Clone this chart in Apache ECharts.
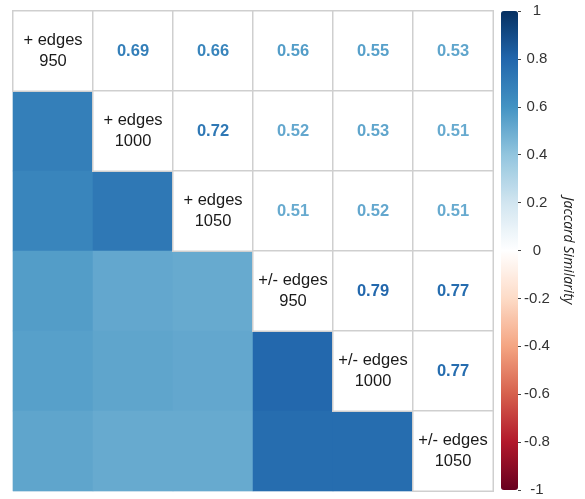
<!DOCTYPE html>
<html>
<head>
<meta charset="utf-8">
<script src="https://cdn.jsdelivr.net/npm/echarts@6/dist/echarts.min.js"></script>
<style>html,body{margin:0;padding:0;background:#fff;}#c{width:585px;height:499px;}</style>
</head>
<body>
<div id="c"></div>
<script>
// ---- data ----
var labels = ['+ edges\n950', '+ edges\n1000', '+ edges\n1050', '+/- edges\n950', '+/- edges\n1000', '+/- edges\n1050'];
var row0 = [1.00, 0.69, 0.66, 0.56, 0.55, 0.53];
var row1 = [0.69, 1.00, 0.72, 0.52, 0.53, 0.51];
var row2 = [0.66, 0.72, 1.00, 0.51, 0.52, 0.51];
var row3 = [0.56, 0.52, 0.51, 1.00, 0.79, 0.77];
var row4 = [0.55, 0.53, 0.52, 0.79, 1.00, 0.77];
var row5 = [0.53, 0.51, 0.51, 0.77, 0.77, 1.00];
var matrix = [row0, row1, row2, row3, row4, row5];
var palette = ['#67001F', '#B2182B', '#D6604D', '#F4A582', '#FDDBC7', '#FFFFFF', '#D1E5F0', '#92C5DE', '#4393C3', '#2166AC', '#053061'];

function hex2rgb(h){return [parseInt(h.substr(1,2),16),parseInt(h.substr(3,2),16),parseInt(h.substr(5,2),16)];}
function colorOf(v){
  var t = (v + 1) / 2 * (palette.length - 1);
  var i = Math.min(Math.floor(t), palette.length - 2);
  var f = t - i;
  var a = hex2rgb(palette[i]), b = hex2rgb(palette[i+1]);
  var c = a.map(function(x,k){return Math.round(x + (b[k]-x)*f);});
  return 'rgb(' + c.join(',') + ')';
}

var lower = [], upper = [];
for (var i = 0; i < matrix.length; i++) {
  for (var j = 0; j < matrix.length; j++) {
    var v = matrix[i][j];
    if (i > j) {
      lower.push([j, i, v]);
    } else if (i === j) {
      upper.push({value: [j, i, v], label: {formatter: labels[i], color: '#1a1a1a', fontWeight: 'normal'}});
    } else {
      upper.push({value: [j, i, v], label: {formatter: v.toFixed(2), color: colorOf(v), fontWeight: 'bold'}});
    }
  }
}

var chart = echarts.init(document.getElementById('c'), null, {renderer: 'canvas'});
chart.setOption({
  animation: false,
  backgroundColor: '#fff',
  grid: [
    {left: 13, top: 11, width: 480, height: 480, show: true, borderColor: '#dde8ef', borderWidth: 1, backgroundColor: 'transparent'},
    {left: 501, top: 11, width: 17, height: 479}
  ],
  xAxis: [
    {type: 'category', data: labels, gridIndex: 0, show: false},
    {type: 'value', gridIndex: 1, show: false, min: 0, max: 1}
  ],
  yAxis: [
    {type: 'category', data: labels, gridIndex: 0, show: false, inverse: true},
    {type: 'value', gridIndex: 1, min: -1, max: 1, interval: 0.2, position: 'right', z: 10,
     axisLine: {show: false, onZero: false}, splitLine: {show: false},
     axisTick: {show: true, length: 3, lineStyle: {color: '#444', width: 1}},
     axisLabel: {show: true, align: 'center', margin: 19, fontSize: 15, color: '#333', fontFamily: 'Liberation Sans, Arial',
       formatter: function(v){ return String(parseFloat(v.toFixed(1))); }},
     name: 'Jaccard Similarity', nameLocation: 'middle', nameRotate: -90, nameGap: 43,
     nameTextStyle: {fontStyle: 'italic', fontSize: 14, color: '#222', fontFamily: 'Open Sans'}
    }
  ],
  visualMap: {
    type: 'continuous', min: -1, max: 1, seriesIndex: 0,
    calculable: false, realtime: false,
    left: 501, top: 11, itemWidth: 17, itemHeight: 479,
    padding: 0, text: null, showLabel: false,
    inRange: {color: palette}, hoverLink: false
  },
  series: [
    {type: 'heatmap', xAxisIndex: 0, yAxisIndex: 0, data: lower, itemStyle: {borderWidth: 0}},
    {type: 'heatmap', xAxisIndex: 0, yAxisIndex: 0, data: upper,
     itemStyle: {color: '#ffffff', borderColor: '#cfcfcf', borderWidth: 1.5},
     label: {show: true, fontSize: 16.5, lineHeight: 21, fontFamily: 'Liberation Sans, Arial'}},
    {type: 'scatter', xAxisIndex: 1, yAxisIndex: 1, data: [], silent: true}
  ]
});
</script>
</body>
</html>
